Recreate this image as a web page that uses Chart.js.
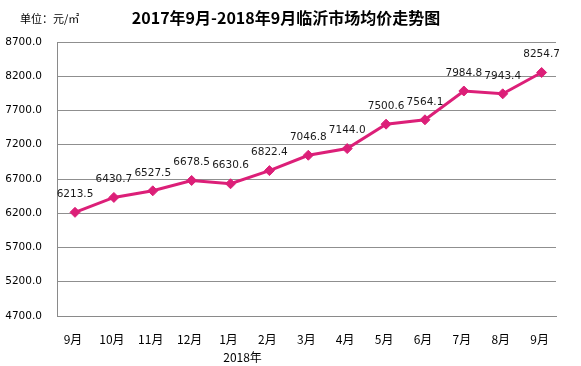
<!DOCTYPE html>
<html>
<head>
<meta charset="utf-8">
<script src="https://cdn.jsdelivr.net/npm/chart.js@4/dist/chart.umd.min.js"></script>
<style>
html,body{margin:0;padding:0;background:#fff;}
#wrap{width:581px;height:366px;position:relative;}
</style>
</head>
<body>
<div id="wrap"><canvas id="c" width="581" height="366"></canvas></div>
<script>
const categories = ['9月','10月','11月','12月','1月','2月','3月','4月','5月','6月','7月','8月','9月'];
const prices = [6213.5, 6430.7, 6527.5, 6678.5, 6630.6, 6822.4, 7046.8, 7144.0, 7500.6, 7564.1, 7984.8, 7943.4, 8254.7];
const yearNote = '2018年';
const yearNoteIndex = 4;
const titleText = '2017年9月-2018年9月临沂市场均价走势图';
const unitText = '单位：元/㎡';

const LINE = '#DC1F78';
const FONT = 'DejaVu Sans, Verdana, sans-serif';
const CJK = '"Noto Sans CJK SC", "DejaVu Sans", sans-serif';

const extras = {
  id: 'extras',
  afterDatasetsDraw(chart) {
    const ctx = chart.ctx;
    const meta = chart.getDatasetMeta(0);
    ctx.save();
    ctx.fillStyle = '#1a1a1a';
    ctx.font = '10.5px ' + FONT;
    ctx.textAlign = 'center';
    ctx.textBaseline = 'middle';
    meta.data.forEach((pt, i) => {
      ctx.fillText(prices[i].toFixed(1), pt.x, pt.y - 18);
    });
    ctx.restore();
  },
  afterDraw(chart) {
    const ctx = chart.ctx;
    const xs = chart.scales.x;
    ctx.save();
    ctx.fillStyle = '#000';
    ctx.textBaseline = 'middle';
    ctx.textAlign = 'center';
    ctx.font = 'bold 16px ' + CJK;
    ctx.fillText(titleText, 286, 18);
    ctx.textAlign = 'left';
    ctx.font = '11px ' + CJK;
    ctx.fillText(unitText, 20, 19);
    ctx.textAlign = 'center';
    ctx.font = '12px ' + CJK;
    ctx.fillText(yearNote, xs.getPixelForValue(yearNoteIndex) + 12, 357);
    ctx.restore();
  }
};

new Chart(document.getElementById('c'), {
  type: 'line',
  data: {
    datasets: [{
      data: prices.map((v, i) => ({x: i, y: v})),
      borderColor: LINE,
      backgroundColor: LINE,
      borderWidth: 3,
      pointStyle: 'rectRot',
      pointRadius: 5,
      pointBorderWidth: 1,
      pointBorderColor: LINE,
      pointBackgroundColor: LINE,
      tension: 0
    }]
  },
  options: {
    responsive: false,
    animation: false,
    events: [],
    layout: { padding: { left: 0, right: 25, top: 42, bottom: 0 } },
    plugins: { legend: { display: false }, tooltip: { enabled: false }, title: { display: false } },
    scales: {
      x: {
        type: 'linear',
        min: -0.463,
        max: 12.37,
        afterBuildTicks(scale) {
          scale.ticks = categories.map((c, i) => ({ value: i }));
        },
        afterFit(scale) { scale.height = 50; },
        grid: { display: false, drawTicks: false },
        border: { display: true, color: '#8a8a8a', width: 1 },
        ticks: {
          autoSkip: false,
          maxRotation: 0,
          padding: 16,
          labelOffset: -2,
          color: '#000',
          font: { family: CJK, size: 12 },
          callback: (v) => categories[v]
        }
      },
      y: {
        min: 4700,
        max: 8700,
        afterFit(scale) { scale.width = 57; },
        afterBuildTicks(scale) {
          const t = [];
          for (let v = 4700; v <= 8700; v += 500) t.push({ value: v });
          scale.ticks = t;
        },
        grid: { color: '#8f8f8f', lineWidth: 1, drawTicks: false },
        border: { display: true, color: '#8a8a8a', width: 1 },
        ticks: {
          padding: 15,
          color: '#000',
          font: { family: FONT, size: 10.5 },
          callback: (v) => Number(v).toFixed(1)
        }
      }
    }
  },
  plugins: [extras]
});
</script>
</body>
</html>
